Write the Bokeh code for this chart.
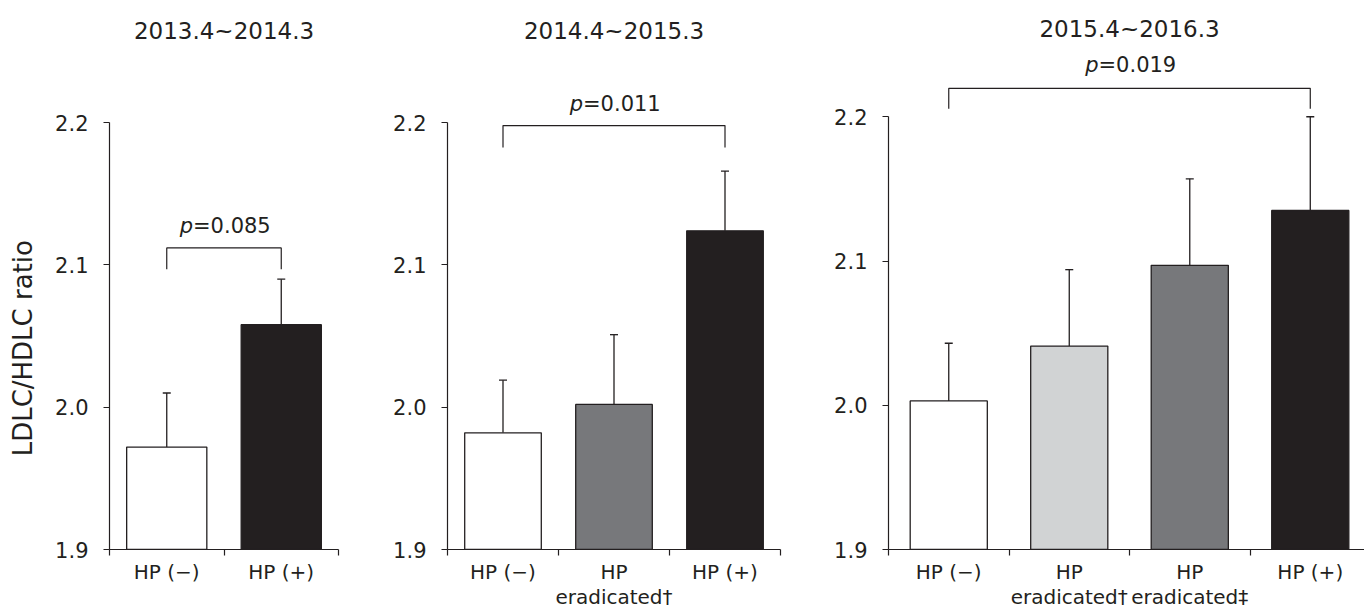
from bokeh.plotting import figure
from bokeh.models import (ColumnDataSource, Range1d, FixedTicker, Whisker, TeeHead,
                          Label, NumeralTickFormatter)
from bokeh.layouts import row
from bokeh.embed import file_html
from bokeh.resources import INLINE

FONT = "DejaVu Sans"
INK = "#231f20"

# ---------------- data ----------------
titles = ["2013.4~2014.3", "2014.4~2015.3", "2015.4~2016.3"]
y_label = "LDLC/HDLC ratio"
y_ticks = [1.9, 2.0, 2.1, 2.2]

cats1 = ["HP (−)", "HP (+)"]
mean1 = [1.972, 2.058]
sem1 = [0.038, 0.032]
colors1 = ["#ffffff", "#231f20"]

cats2 = ["HP (−)", "HP\neradicated†", "HP (+)"]
mean2 = [1.982, 2.002, 2.124]
sem2 = [0.037, 0.049, 0.042]
colors2 = ["#ffffff", "#77787b", "#231f20"]

cats3 = ["HP (−)", "HP\neradicated†", "HP\neradicated‡", "HP (+)"]
mean3 = [2.003, 2.041, 2.097, 2.135]
sem3 = [0.040, 0.053, 0.060, 0.065]
colors3 = ["#ffffff", "#d1d3d4", "#77787b", "#231f20"]

p_values = ["0.085", "0.011", "0.019"]
bracket_top = [2.112, 2.198, 2.2197]
bracket_leg = [2.097, 2.1825, 2.2055]

HEIGHT = 611
BOTTOM = 58
TXT_UP = 6  # px lift applied to free text labels


def panel(title, cats, means, sems, colors, pval, b_top, b_leg,
          p_y, title_y, width, left, right, y_end, x_end, bar_w):
    n = len(cats)
    xs = [i + 0.5 for i in range(n)]
    p = figure(width=width, height=HEIGHT,
               x_range=Range1d(0, x_end), y_range=Range1d(1.9, y_end),
               output_backend="svg", toolbar_location=None,
               min_border_left=left, min_border_right=right,
               min_border_top=0, min_border_bottom=BOTTOM)
    p.outline_line_color = None
    p.grid.visible = False
    p.background_fill_color = "white"
    p.border_fill_color = "white"

    src = ColumnDataSource(dict(x=xs, top=means,
                                upper=[m + s for m, s in zip(means, sems)],
                                color=colors))
    p.vbar(x="x", top="top", bottom=1.9, width=bar_w, fill_color="color",
           line_color=INK, line_width=1.3, source=src)
    p.add_layout(Whisker(source=src, base="x", lower="top", upper="upper",
                         dimension="height", line_color=INK, line_width=1.3,
                         lower_head=None,
                         upper_head=TeeHead(size=8, line_color=INK, line_width=1.3)))

    # significance bracket between first and last group
    p.line(x=[xs[0], xs[0], xs[-1], xs[-1]], y=[b_leg, b_top, b_top, b_leg],
           line_color=INK, line_width=1.2)
    mid = (xs[0] + xs[-1]) / 2
    p.add_layout(Label(x=mid, y=p_y, text="p", x_offset=-31, y_offset=TXT_UP,
                       text_align="right", text_baseline="alphabetic", text_font=FONT,
                       text_font_style="italic", text_font_size="21px", text_color=INK))
    p.add_layout(Label(x=mid, y=p_y, text="=" + pval, x_offset=-31, y_offset=TXT_UP,
                       text_align="left", text_baseline="alphabetic", text_font=FONT,
                       text_font_size="21px", text_color=INK))
    # panel title
    p.add_layout(Label(x=n / 2, y=title_y, text=title, y_offset=TXT_UP,
                       text_align="center", text_baseline="alphabetic", text_font=FONT,
                       text_font_size="23px", text_color=INK))

    # y axis
    ya = p.yaxis[0]
    ya.bounds = (1.9, 2.2)
    ya.ticker = FixedTicker(ticks=y_ticks)
    ya.formatter = NumeralTickFormatter(format="0.0")
    ya.major_tick_out = 6
    ya.major_tick_in = 0
    ya.minor_tick_out = 0
    ya.minor_tick_in = 0
    ya.major_label_standoff = 15
    ya.axis_line_color = INK
    ya.axis_line_width = 1.2
    ya.major_tick_line_color = INK
    ya.major_tick_line_width = 1.2
    ya.major_label_text_font = FONT
    ya.major_label_text_font_size = "21px"
    ya.major_label_text_color = INK

    # x axis: labels at group centres, tick marks at group boundaries
    xa = p.xaxis[0]
    xa.ticker = FixedTicker(ticks=xs, minor_ticks=list(range(n + 1)))
    xa.major_label_overrides = {x: c for x, c in zip(xs, cats)}
    xa.major_tick_out = 0
    xa.major_tick_in = 0
    xa.minor_tick_out = 6
    xa.minor_tick_in = 0
    xa.minor_tick_line_color = INK
    xa.minor_tick_line_width = 1.2
    xa.major_label_standoff = 4
    xa.axis_line_color = INK
    xa.axis_line_width = 1.2
    xa.major_label_text_font = FONT
    xa.major_label_text_font_size = "20px"
    xa.major_label_text_color = INK
    xa.major_label_text_line_height = 1.05
    return p


p1 = panel(titles[0], cats1, mean1, sem1, colors1, p_values[0],
           bracket_top[0], bracket_leg[0], p_y=2.123, title_y=2.260,
           width=315, left=64, right=22, y_end=2.2859, x_end=2, bar_w=0.70)

p2 = panel(titles[1], cats2, mean2, sem2, colors2, p_values[1],
           bracket_top[1], bracket_leg[1], p_y=2.209, title_y=2.260,
           width=440, left=87, right=20, y_end=2.2859, x_end=3, bar_w=0.69)

p3 = panel(titles[2], cats3, mean3, sem3, colors3, p_values[2],
           bracket_top[2], bracket_leg[2], p_y=2.2317, title_y=2.2566,
           width=564, left=88, right=0, y_end=2.2806, x_end=3.95, bar_w=0.64)

# narrow strip holding the shared y-axis title, on the same vertical scale as panel 1
p0 = figure(width=45, height=HEIGHT, x_range=Range1d(0, 1), y_range=p1.y_range,
            output_backend="svg", toolbar_location=None,
            x_axis_location=None, y_axis_location=None,
            min_border_left=0, min_border_right=0, min_border_top=0,
            min_border_bottom=BOTTOM)
p0.outline_line_color = None
p0.grid.visible = False
p0.add_layout(Label(x=0.49, y=2.0415, text=y_label, angle=1.5707963,
                    text_align="center", text_baseline="middle", text_font=FONT,
                    text_font_size="26px", text_color=INK))

layout = row(p0, p1, p2, p3)
open("out.html", "w").write(file_html(layout, INLINE))
